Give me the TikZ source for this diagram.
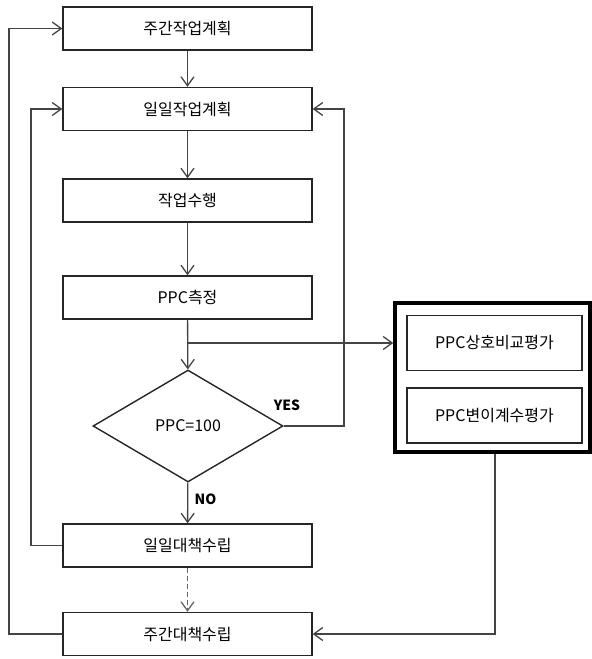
\documentclass[tikz,border=0pt]{standalone}
\usepackage{fontspec}
\setmainfont{Noto Sans CJK KR}
\usetikzlibrary{arrows.meta,shapes.geometric}
\definecolor{linegray}{HTML}{444444}
\begin{document}
\begin{tikzpicture}
[x=1pt, y=-1pt,
 box/.style={draw=black!85, line width=1.4pt, minimum width=249pt, minimum height=43pt, inner sep=0pt, font=\fontsize{16}{18}\selectfont},
 evalbox/.style={draw=black!85, line width=1.4pt, minimum width=175pt, minimum height=55pt, inner sep=0pt, font=\fontsize{16}{18}\selectfont},
 decision/.style={diamond, draw=black!85, line width=1.4pt, minimum width=190pt, minimum height=112pt, aspect=1.7, inner sep=0pt, font=\fontsize{16}{18}\selectfont},
 flow/.style={draw=linegray, line width=1.3pt, -{Straight Barb[length=9pt, width=13pt, line width=1.3pt]}},
 tag/.style={font=\bfseries\fontsize{14}{16}\selectfont}]
\useasboundingbox (0,0) rectangle (592,659);
% main column
\node [box] (weekplan) at (187.5,28.5) {주간작업계획};
\node [box] (dayplan) at (187.5,109) {일일작업계획};
\node [box] (work) at (187.5,200.5) {작업수행};
\node [box] (measure) at (187.5,297.5) {PPC측정};
\node [decision] (check) at (188,426) {PPC=100};
\node [box] (dayfix) at (187.5,545.5) {일일대책수립};
\node [box] (weekfix) at (187.5,634) {주간대책수립};
% evaluation block
\node [draw=black, line width=3.5pt, minimum width=195pt, minimum height=149pt] (evaluate) at (492.5,377.5) {};
\node [evalbox] (compare) at (494.5,343) {PPC상호비교평가};
\node [evalbox] (variance) at (494.5,415.5) {PPC변이계수평가};
\coordinate (branch) at (187.5,343);
% connectors
\draw [flow] (weekplan) -- (dayplan);
\draw [flow] (dayplan) -- (work);
\draw [flow] (work) -- (measure);
\draw [flow] (measure) -- (check);
\draw [flow] (branch) -- (evaluate.west |- branch);
\draw [flow] (check.east) -- (344,426) |- (dayplan.east);
\draw [flow] (check) -- (dayfix) node [tag, pos=0.4, right=3pt] {NO};
\node [tag] (yes) at (287,405) {YES};
\draw [flow] (dayfix.west) -- (31,545.5) |- (dayplan.west);
\draw [flow, draw=black!60, dash pattern=on 5pt off 3pt] (dayfix) -- (weekfix);
\draw [flow] (weekfix.west) -- (9,634) |- (weekplan.west);
\draw [flow] (evaluate.south -| 495,0) |- (weekfix.east);
\end{tikzpicture}
\end{document}
